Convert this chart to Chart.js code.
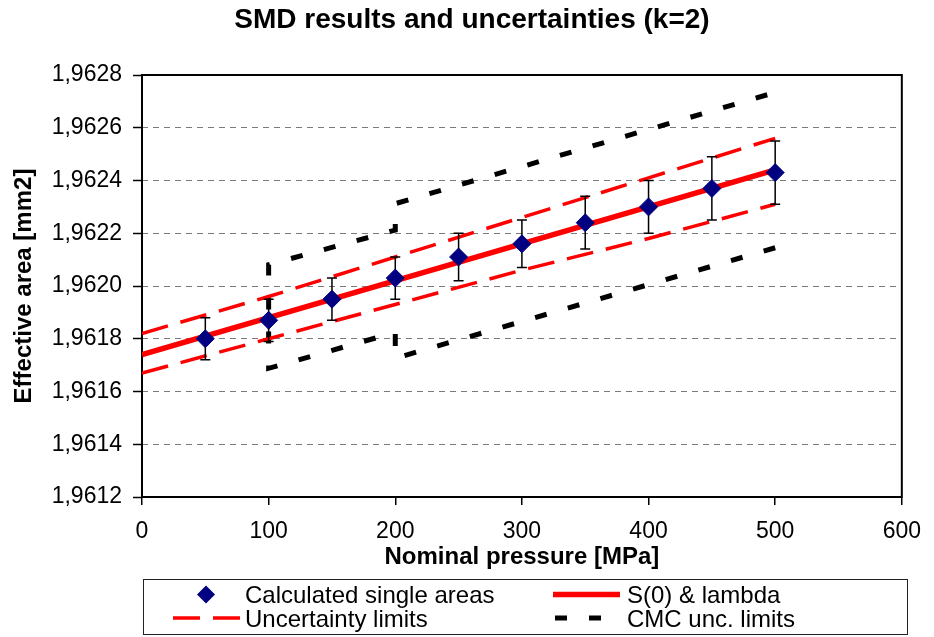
<!DOCTYPE html>
<html>
<head>
<meta charset="utf-8">
<title>SMD results and uncertainties (k=2)</title>
<script src="https://cdn.jsdelivr.net/npm/chart.js@4.4.0/dist/chart.umd.min.js"></script>
<style>
  html, body { margin: 0; padding: 0; background: #fff; }
  canvas { display: block; }
</style>
</head>
<body>
<canvas id="smdChart" width="934" height="637"></canvas>
<script>
// Measured single areas with their expanded uncertainty (k=2)
const pressures = [50, 100, 150, 200, 250, 300, 350, 400, 450, 500];
const areas = [1.96180, 1.96187, 1.96195, 1.96203, 1.96211, 1.96216, 1.96224, 1.96230, 1.96237, 1.96243];
const areaErrors = [0.00008, 0.00008, 0.00008, 0.00008, 0.00009, 0.00009, 0.00010, 0.00010, 0.00012, 0.00012];

// S(0) & lambda fit
const fitPressures = [0, 500];
const fitAreas = [1.96174, 1.96244];

// Uncertainty limits of the fit
const limitPressures = [0, 100, 200, 300, 400, 500];
const upperLimits = [1.96182, 1.96196, 1.96211, 1.96226, 1.96241, 1.96256];
const lowerLimits = [1.96167, 1.96180, 1.96193, 1.96206, 1.96218, 1.96231];

// CMC limits, one polyline: lower branch back to 100, up, then upper branch
const cmcPressures = [500, 200, 200, 100, 100, 200, 200, 500];
const cmcAreas = [1.962145, 1.961726, 1.961824, 1.961688, 1.962081, 1.962212, 1.962312, 1.962734];

const xTicks = [0, 100, 200, 300, 400, 500, 600];
const yTicks = [1.9612, 1.9614, 1.9616, 1.9618, 1.9620, 1.9622, 1.9624, 1.9626, 1.9628];

const FONT = 'Arial, "Liberation Sans", sans-serif';

const toPoints = (xs, ys) => xs.map((x, i) => ({ x: x, y: ys[i] }));

// error bars under the diamonds
const errorBars = {
    id: 'errorBars',
    beforeDatasetDraw(chart, args) {
        if (args.index !== 0) return;
        const { ctx, scales: { x, y } } = chart;
        ctx.save();
        ctx.strokeStyle = '#000';
        ctx.lineWidth = 1.5;
        pressures.forEach((p, i) => {
            const px = x.getPixelForValue(p);
            const top = y.getPixelForValue(areas[i] + areaErrors[i]);
            const bot = y.getPixelForValue(areas[i] - areaErrors[i]);
            ctx.beginPath();
            ctx.moveTo(px, top); ctx.lineTo(px, bot);
            ctx.moveTo(px - 5, top); ctx.lineTo(px + 5, top);
            ctx.moveTo(px - 5, bot); ctx.lineTo(px + 5, bot);
            ctx.stroke();
        });
        ctx.restore();
    }
};

// black frame round the plot area
const plotFrame = {
    id: 'plotFrame',
    beforeDatasetsDraw(chart) {
        const { ctx, chartArea: a } = chart;
        ctx.save();
        ctx.strokeStyle = '#000';
        ctx.lineWidth = 2;
        ctx.strokeRect(a.left, a.top, a.right - a.left, a.bottom - a.top);
        ctx.restore();
    }
};

// title and the boxed two-column legend
const titleAndLegend = {
    id: 'titleAndLegend',
    afterDraw(chart) {
        const ctx = chart.ctx;
        ctx.save();
        ctx.fillStyle = '#000';
        ctx.font = 'bold 28px ' + FONT;
        ctx.textAlign = 'center';
        ctx.textBaseline = 'middle';
        ctx.fillText('SMD results and uncertainties (k=2)', 472, 20);

        ctx.strokeStyle = '#222';
        ctx.lineWidth = 1;
        ctx.strokeRect(143.5, 579.5, 764, 55);

        const slots = [
            { ds: 0, x0: 206, x1: 206, tx: 245, base: 603 },
            { ds: 1, x0: 553, x1: 620, tx: 627, base: 603 },
            { ds: 2, x0: 173, x1: 240, tx: 245, base: 626.5 },
            { ds: 4, x0: 555, x1: 602, tx: 627, base: 626.5 }
        ];
        ctx.font = '24px ' + FONT;
        ctx.textAlign = 'left';
        ctx.textBaseline = 'alphabetic';
        slots.forEach(s => {
            const d = chart.data.datasets[s.ds];
            const cy = s.base - 8.5;
            if (d.showLine) {
                ctx.beginPath();
                ctx.strokeStyle = d.borderColor;
                ctx.lineWidth = d.borderWidth;
                ctx.setLineDash(d.borderDash || []);
                ctx.lineCap = 'butt';
                ctx.moveTo(s.x0, cy);
                ctx.lineTo(s.x1, cy);
                ctx.stroke();
                ctx.setLineDash([]);
            } else {
                const r = d.pointRadius;
                ctx.beginPath();
                ctx.fillStyle = d.backgroundColor;
                ctx.moveTo(s.x0 - r, cy);
                ctx.lineTo(s.x0, cy - r);
                ctx.lineTo(s.x0 + r, cy);
                ctx.lineTo(s.x0, cy + r);
                ctx.closePath();
                ctx.fill();
            }
            ctx.fillStyle = '#000';
            ctx.fillText(d.label, s.tx, s.base);
        });
        ctx.restore();
    }
};

new Chart(document.getElementById('smdChart'), {
    type: 'scatter',
    data: {
        datasets: [{
            label: 'Calculated single areas',
            data: toPoints(pressures, areas),
            pointStyle: 'rectRot',
            pointRadius: 9,
            pointHoverRadius: 9,
            backgroundColor: '#000080',
            borderColor: '#000080',
            borderWidth: 1,
            showLine: false
        }, {
            label: 'S(0) & lambda',
            data: toPoints(fitPressures, fitAreas),
            showLine: true,
            borderColor: '#ff0000',
            borderWidth: 5.5,
            pointRadius: 0
        }, {
            label: 'Uncertainty limits',
            data: toPoints(limitPressures, upperLimits),
            showLine: true,
            borderColor: '#ff0000',
            borderWidth: 3.5,
            borderDash: [27, 13],
            pointRadius: 0
        }, {
            label: 'Uncertainty limits (lower)',
            data: toPoints(limitPressures, lowerLimits),
            showLine: true,
            borderColor: '#ff0000',
            borderWidth: 3.5,
            borderDash: [27, 13],
            pointRadius: 0
        }, {
            label: 'CMC unc. limits',
            data: toPoints(cmcPressures, cmcAreas),
            showLine: true,
            borderColor: '#000',
            borderWidth: 5,
            borderDash: [12, 22],
            pointRadius: 0
        }]
    },
    options: {
        responsive: false,
        animation: false,
        layout: { padding: { top: 75, right: 25, bottom: 65, left: 0 } },
        plugins: {
            legend: { display: false },
            title: { display: false },
            tooltip: { enabled: false }
        },
        scales: {
            x: {
                type: 'linear',
                min: 0,
                max: 600,
                afterBuildTicks: s => { s.ticks = xTicks.map(v => ({ value: v })); },
                afterFit: s => { s.height = 75; },
                border: { display: false },
                grid: {
                    drawOnChartArea: false,
                    drawTicks: true,
                    tickLength: 8,
                    tickColor: '#000',
                    lineWidth: 1.5
                },
                ticks: {
                    color: '#000',
                    padding: 13,
                    maxRotation: 0,
                    font: { family: FONT, size: 23 }
                },
                title: {
                    display: true,
                    text: 'Nominal pressure [MPa]',
                    color: '#000',
                    padding: { top: 0, bottom: 0 },
                    font: { family: FONT, size: 24, weight: 'bold' }
                }
            },
            y: {
                type: 'linear',
                min: 1.9612,
                max: 1.9628,
                afterBuildTicks: s => { s.ticks = yTicks.map(v => ({ value: v })); },
                afterFit: s => { s.width = 142; },
                border: { display: false, dash: [6, 5] },
                grid: {
                    color: '#7a7a7a',
                    lineWidth: 1,
                    drawTicks: true,
                    tickLength: 9,
                    tickColor: '#000',
                    tickWidth: 1.5,
                    tickBorderDash: []
                },
                ticks: {
                    color: '#000',
                    padding: 11,
                    font: { family: FONT, size: 23 },
                    callback: v => v.toFixed(4).replace('.', ',')
                },
                title: {
                    display: true,
                    text: 'Effective area [mm2]',
                    color: '#000',
                    padding: { top: 10, bottom: 0 },
                    font: { family: FONT, size: 24, weight: 'bold' }
                }
            }
        }
    },
    plugins: [plotFrame, errorBars, titleAndLegend]
});
</script>
</body>
</html>
